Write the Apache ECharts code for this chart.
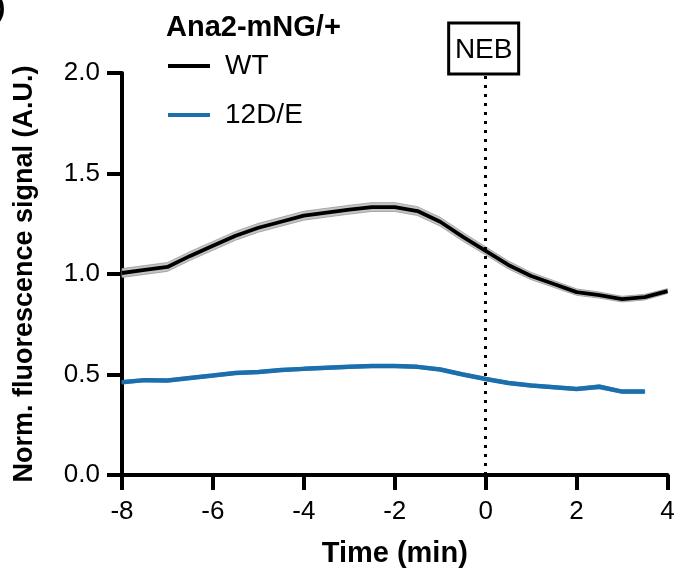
<!DOCTYPE html>
<html>
<head>
<meta charset="utf-8">
<script src="https://cdn.jsdelivr.net/npm/echarts@6/dist/echarts.min.js"></script>
<style>html,body{margin:0;padding:0;background:#fff}#c{width:676px;height:574px}</style>
</head>
<body>
<div id="c"></div>
<script>
const timeWT = [-8,-7.5,-7,-6.5,-6,-5.5,-5,-4.5,-4,-3.5,-3,-2.5,-2,-1.5,-1,-0.5,0,0.5,1,1.5,2,2.5,3,3.5,4];
const wtMean = [1.005,1.02,1.035,1.09,1.14,1.19,1.23,1.26,1.29,1.305,1.32,1.333,1.333,1.313,1.26,1.185,1.115,1.045,0.99,0.95,0.91,0.895,0.875,0.885,0.915];
const wtSem  = [0.022,0.022,0.022,0.022,0.022,0.022,0.022,0.022,0.022,0.022,0.022,0.022,0.022,0.022,0.022,0.022,0.02,0.02,0.018,0.017,0.016,0.015,0.014,0.014,0.012];
const timeMut = [-8,-7.5,-7,-6.5,-6,-5.5,-5,-4.5,-4,-3.5,-3,-2.5,-2,-1.5,-1,-0.5,0,0.5,1,1.5,2,2.5,3,3.5];
const mutMean = [0.462,0.472,0.47,0.483,0.495,0.508,0.512,0.522,0.528,0.533,0.538,0.542,0.542,0.538,0.525,0.5,0.478,0.458,0.445,0.437,0.428,0.439,0.415,0.415];
const mutSem  = [0.008,0.008,0.008,0.008,0.008,0.008,0.008,0.008,0.008,0.008,0.008,0.008,0.008,0.008,0.008,0.008,0.008,0.008,0.008,0.008,0.008,0.01,0.008,0.008];
const xTicks = [-8,-6,-4,-2,0,2,4];
const yTicks = [0,0.5,1.0,1.5,2.0];
const nebTime = 0;

const FONT = "'Liberation Sans', Arial, Helvetica, sans-serif";
const chart = echarts.init(document.getElementById('c'), null, {renderer:'canvas'});

function bandSeries(name, t, m, s, fill, stroke) {
  const data = t.map((x,i)=>[x, m[i]-s[i], m[i]+s[i]]);
  return {
    type:'custom', name: name, silent:true, z:1,
    data: data,
    renderItem: function(params, api) {
      if (params.dataIndex !== 0) return null;
      const pts = [];
      for (let i=0;i<data.length;i++) pts.push(api.coord([data[i][0], data[i][2]]));
      for (let i=data.length-1;i>=0;i--) pts.push(api.coord([data[i][0], data[i][1]]));
      return {type:'polygon', shape:{points:pts}, style:{fill:fill, stroke:stroke, lineWidth:0.8}};
    }
  };
}

const axisLineStyle = {color:'#000', width:4};
chart.setOption({
  backgroundColor:'#fff',
  animation:false,
  title:{text:'Ana2-mNG/+', left:161, top:8, textStyle:{fontFamily:FONT, fontSize:29, fontWeight:'bold', color:'#000'}},
  legend:{
    orient:'vertical', left:163, top:47, itemGap:21, itemWidth:42, itemHeight:4,
    data:[{name:'WT', icon:'rect'},{name:'12D/E', icon:'rect'}],
    textStyle:{fontFamily:FONT, fontSize:28, color:'#000', padding:[0,0,0,10]}
  },
  grid:{left:122, right:8.5, top:73, bottom:99, containLabel:false, outerBoundsMode:'none'},
  xAxis:{
    type:'value', min:-8, max:4, interval:2,
    name:'Time (min)', nameLocation:'middle', nameGap:64,
    nameTextStyle:{fontFamily:FONT, fontSize:29, fontWeight:'bold', color:'#000'},
    axisLine:{show:true, lineStyle:axisLineStyle, onZero:false},
    axisTick:{show:true, length:15, lineStyle:{color:'#000', width:4}},
    axisLabel:{fontFamily:FONT, fontSize:26, color:'#000', margin:24, formatter:v=>xTicks.includes(v)?String(v):''},
    splitLine:{show:false}
  },
  yAxis:{
    type:'value', min:0, max:2, interval:0.5,
    name:'Norm. fluorescence signal (A.U.)', nameLocation:'middle', nameGap:84,
    nameTextStyle:{fontFamily:FONT, fontSize:27, fontWeight:'bold', color:'#000'},
    axisLine:{show:true, lineStyle:axisLineStyle, onZero:false},
    axisTick:{show:true, length:15, lineStyle:{color:'#000', width:4}},
    axisLabel:{fontFamily:FONT, fontSize:26, color:'#000', margin:22, formatter:v=>yTicks.includes(v)?v.toFixed(1):''},
    splitLine:{show:false}
  },
  series:[
    bandSeries('WT band', timeWT, wtMean, wtSem, '#c4c4c4', '#9a9a9a'),
    bandSeries('12D/E band', timeMut, mutMean, mutSem, '#8fb8d8', '#5d98c6'),
    {type:'line', name:'WT', data:timeWT.map((x,i)=>[x,wtMean[i]]), showSymbol:false, symbol:'none', z:3,
     lineStyle:{color:'#000', width:3.8}, itemStyle:{color:'#000'},
     markLine:{silent:true, symbol:'none', label:{show:false},
       lineStyle:{color:'#000', width:3, type:[3,6]},
       data:[[{coord:[nebTime,0]},{coord:[nebTime,2]}]]}},
    {type:'line', name:'12D/E', data:timeMut.map((x,i)=>[x,mutMean[i]]), showSymbol:false, symbol:'none', z:3,
     lineStyle:{color:'#1b6fad', width:4.5}, itemStyle:{color:'#1b6fad'}}
  ]
});

const px = chart.convertToPixel({gridIndex:0}, [nebTime, 2]);
chart.setOption({
  graphic:[
    {type:'rect', shape:{x:px[0]-37, y:23, width:70, height:51}, style:{fill:'#fff', stroke:'#000', lineWidth:3}, z:10},
    {type:'text', x:px[0]-2, y:50, style:{text:'NEB', fontFamily:FONT, fontSize:28, fill:'#000', align:'center', verticalAlign:'middle'}, z:11},
    {type:'text', x:-4, y:-6, style:{text:')', fontFamily:FONT, fontSize:28, fontWeight:'bold', fill:'#000'}, z:11}
  ]
});
</script>
</body>
</html>
